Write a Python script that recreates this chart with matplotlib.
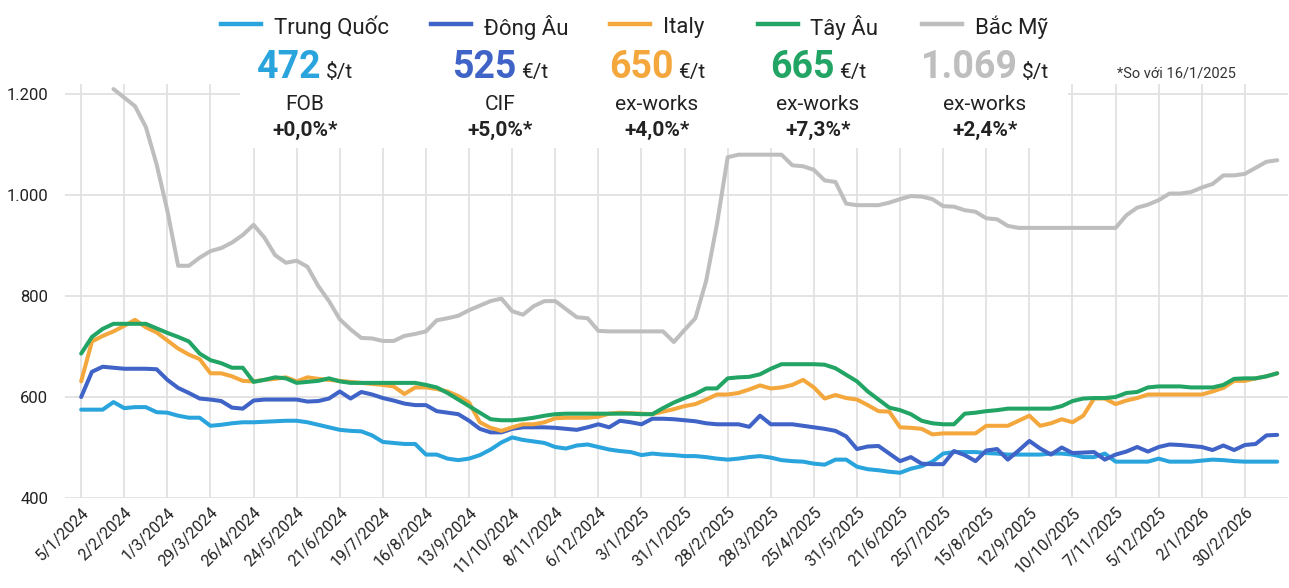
import matplotlib
matplotlib.use("Agg")
import matplotlib.pyplot as plt
from matplotlib.lines import Line2D
from matplotlib.patches import Rectangle
import numpy as np

plt.rcParams['font.family'] = ['Roboto', 'DejaVu Sans']

# ---------------- data ----------------
tick_labels = ["5/1/2024", "2/2/2024", "1/3/2024", "29/3/2024", "26/4/2024", "24/5/2024",
               "21/6/2024", "19/7/2024", "16/8/2024", "13/9/2024", "11/10/2024", "8/11/2024",
               "6/12/2024", "3/1/2025", "31/1/2025", "28/2/2025", "28/3/2025", "25/4/2025",
               "31/5/2025", "21/6/2025", "25/7/2025", "15/8/2025", "12/9/2025", "10/10/2025",
               "7/11/2025", "5/12/2025", "2/1/2026", "30/2/2026"]

series_names = ["Trung Quốc", "Đông Âu", "Italy", "Tây Âu", "Bắc Mỹ"]

trung_quoc = [575, 575, 575, 590, 578, 580, 580, 570, 569, 563,
              559, 559, 543, 545, 548, 550, 550, 551, 552, 553,
              553, 550, 545, 540, 535, 533, 532, 524, 511, 509,
              507, 507, 486, 486, 478, 475, 478, 485, 496, 510,
              520, 515, 512, 509, 501, 498, 504, 506, 501, 496,
              493, 491, 485, 488, 486, 485, 483, 483, 481, 478,
              476, 478, 481, 483, 480, 475, 473, 472, 468, 466,
              476, 476, 462, 457, 455, 452, 450, 458, 463, 472,
              488, 491, 491, 491, 489, 488, 486, 486, 486, 486,
              488, 488, 486, 481, 481, 488, 472, 472, 472, 472,
              478, 472, 472, 472, 474, 476, 475, 473, 472, 472,
              472, 472]

dong_au = [600, 650, 660, 658, 656, 656, 656, 655, 634, 618,
           608, 597, 595, 592, 579, 577, 593, 595, 595, 595,
           595, 591, 592, 597, 611, 597, 610, 605, 598, 593,
           587, 584, 584, 572, 569, 566, 553, 537, 530, 530,
           537, 540, 540, 540, 539, 537, 535, 540, 546, 540,
           553, 550, 546, 557, 557, 556, 554, 552, 548, 546,
           546, 546, 541, 563, 546, 546, 546, 543, 540, 537,
           533, 522, 497, 502, 503, 488, 473, 481, 468, 467,
           467, 493, 485, 473, 494, 497, 476, 494, 513, 498,
           486, 500, 489, 490, 491, 476, 486, 492, 501, 492,
           501, 506, 505, 503, 501, 495, 504, 495, 505, 507,
           524, 525]

italy = [631, 710, 721, 730, 741, 753, 738, 728, 712, 696,
         684, 675, 647, 647, 641, 632, 631, 634, 636, 639,
         631, 639, 636, 634, 632, 630, 628, 626, 624, 621,
         606, 619, 619, 616, 611, 602, 589, 550, 539, 533,
         540, 546, 546, 550, 558, 559, 559, 559, 561, 567,
         569, 568, 567, 566, 571, 576, 582, 586, 595, 605,
         605, 608, 615, 623, 617, 619, 624, 634, 619, 597,
         604, 598, 595, 584, 572, 571, 540, 539, 537, 526,
         528, 528, 528, 528, 543, 543, 543, 553, 563, 543,
         548, 556, 550, 563, 597, 597, 586, 593, 598, 605,
         605, 605, 605, 605, 605, 611, 618, 632, 632, 637,
         641, 647]

tay_au = [686, 719, 735, 745, 745, 745, 745, 736, 727, 719,
          710, 686, 673, 667, 658, 658, 630, 634, 639, 637,
          628, 630, 632, 637, 631, 628, 628, 628, 628, 628,
          628, 628, 624, 619, 608, 595, 582, 569, 556, 554,
          554, 556, 559, 563, 566, 567, 567, 567, 567, 567,
          567, 567, 566, 566, 578, 589, 598, 606, 617, 617,
          637, 639, 640, 645, 656, 665, 665, 665, 665, 664,
          657, 644, 631, 611, 595, 579, 574, 566, 553, 548,
          546, 546, 567, 569, 572, 574, 577, 577, 577, 577,
          577, 582, 592, 597, 598, 598, 600, 608, 610, 619,
          621, 621, 621, 619, 619, 619, 624, 636, 637, 637,
          641, 647]

bac_my = [np.nan, np.nan, np.nan, 1210, 1193, 1176, 1135, 1061, 969, 860,
          860, 876, 889, 895, 906, 921, 941, 916, 881, 866,
          870, 858, 820, 790, 754, 734, 717, 716, 711, 711,
          721, 725, 730, 752, 756, 761, 772, 781, 790, 795,
          770, 763, 780, 790, 790, 774, 758, 756, 731, 730,
          730, 730, 730, 730, 730, 709, 733, 756, 830, 942,
          1075, 1080, 1080, 1080, 1080, 1080, 1059, 1057, 1050, 1029,
          1026, 983, 980, 980, 980, 985, 992, 998, 997, 992,
          978, 977, 970, 967, 954, 952, 939, 935, 935, 935,
          935, 935, 935, 935, 935, 935, 935, 960, 975, 981,
          990, 1003, 1003, 1006, 1015, 1022, 1039, 1039, 1042, 1054,
          1066, 1069]

latest_values = ["472", "525", "650", "665", "1.069"]
units = ["$/t", "€/t", "€/t", "€/t", "$/t"]
bases = ["FOB", "CIF", "ex-works", "ex-works", "ex-works"]
changes = ["+0,0%*", "+5,0%*", "+4,0%*", "+7,3%*", "+2,4%*"]
note = "*So với 16/1/2025"
y_ticks = [400, 600, 800, 1000, 1200]

colors = ["#2AA4DD", "#3F63C6", "#F3A73C", "#22A465", "#BEBEBE"]
TEXT = "#222222"

# ---------------- figure ----------------
W, H = 1289, 588
fig = plt.figure(figsize=(W / 100, H / 100), dpi=100)
ax = fig.add_axes([65 / W, 1 - 498 / H, (1288 - 65) / W, (498 - 84) / H])

x = np.arange(len(trung_quoc))
draw_order = [4, 0, 1, 2, 3]
data = [trung_quoc, dong_au, italy, tay_au, bac_my]
for k in draw_order:
    ax.plot(x, data[k], color=colors[k], lw=2.9, solid_joinstyle='round',
            solid_capstyle='round', zorder=2 + draw_order.index(k) * 0.1, clip_on=False)

ax.set_xlim(-1.5, len(x))
ax.set_ylim(400, 1220)
ax.set_xticks(np.arange(0, 4 * len(tick_labels), 4))
ax.set_xticklabels(tick_labels, rotation=45, ha='right', va='top',
                   rotation_mode='anchor', fontsize=11.5, color=TEXT)
ax.set_yticks(y_ticks)
ax.set_yticklabels([f"{v:,}".replace(",", ".") for v in y_ticks], fontsize=12, color=TEXT)
ax.tick_params(axis='both', length=0)
ax.tick_params(axis='y', pad=12)
ax.tick_params(axis='x', pad=5)
ax.grid(True, color='#E2E2E2', lw=1.3)
ax.set_axisbelow(True)
for s in ax.spines.values():
    s.set_visible(False)

# white header box covering gridlines
ax.add_patch(Rectangle((240 / W, 1 - 148 / H), (1068 - 240) / W, 148 / H,
                       transform=fig.transFigure, facecolor='white', edgecolor='none',
                       zorder=1, clip_on=False))

# ---------------- header ----------------
renderer = fig.canvas.get_renderer()
centers = [305, 500, 657, 818, 985]


def fy(py):
    return 1 - py / H


def row(cx, py, items, gaps, va='baseline'):
    texts = []
    for s, kw in items:
        t = fig.text(0, fy(py), s, ha='left', va=va, **kw)
        texts.append(t)
    widths = [t.get_window_extent(renderer).width for t in texts]
    total = sum(widths) + sum(gaps)
    xx = cx - total / 2
    for i, (t, w) in enumerate(zip(texts, widths)):
        t.set_x(xx / W)
        xx += w + (gaps[i] if i < len(gaps) else 0)
    return cx - total / 2


for i in range(5):
    cx = centers[i]
    # legend entry
    lab = fig.text(0, fy(27), series_names[i], ha='left', va='center', fontsize=16, color=TEXT)
    lw_ = lab.get_window_extent(renderer).width
    seg, gap = 40, 13
    total = seg + gap + lw_
    x0 = cx - total / 2
    fig.add_artist(Line2D([x0 / W, (x0 + seg) / W], [fy(24), fy(24)], color=colors[i], lw=3.2,
                          transform=fig.transFigure))
    lab.set_x((x0 + seg + gap) / W)
    # value + unit
    row(cx, 78, [(latest_values[i], dict(fontsize=27, fontweight='bold', color=colors[i])),
                 (units[i], dict(fontsize=15, color=TEXT))], [4])
    fig.text(cx / W, fy(104), bases[i], ha='center', va='center', fontsize=15, color=TEXT)
    fig.text(cx / W, fy(130), changes[i], ha='center', va='center', fontsize=15,
             fontweight='bold', color=TEXT)

fig.text(1117 / W, fy(74), note, ha='left', va='center', fontsize=10.5, color='#333333')

fig.savefig("out.png", dpi=100)
